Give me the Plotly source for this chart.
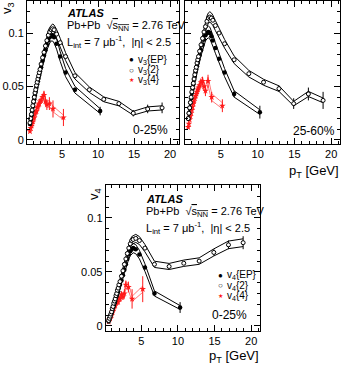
import plotly.graph_objects as go

# ---------------- data ----------------
pt_lo = [0.55, 0.65, 0.75, 0.85, 0.95, 1.05, 1.15, 1.25, 1.35, 1.45, 1.55, 1.65, 1.75, 1.85, 1.95,
         2.1, 2.3, 2.5, 2.7, 2.9, 3.1, 3.3, 3.5, 3.7, 3.9]
pt_ep = pt_lo + [4.25, 4.75, 5.5, 6.8, 10.3]
pt_2pc = pt_lo + [4.25, 4.75, 5.5, 6.8, 8.8, 10.8, 12.9, 14.9, 16.9, 18.9]
pt_4 = pt_lo[:20] + [3.25, 3.75, 5.2]

# v3, 0-25%
v3ep_c = [0.015, 0.019, 0.023, 0.027, 0.031, 0.035, 0.038, 0.042, 0.045, 0.049, 0.052, 0.055, 0.058, 0.061, 0.064,
          0.068, 0.074, 0.079, 0.084, 0.089, 0.093, 0.096, 0.098, 0.098, 0.096, 0.090, 0.078, 0.063, 0.047, 0.027]
v3ep_c_err = [0.0] * 25 + [0.001, 0.001, 0.001, 0.002, 0.004]
v32_c = [0.016, 0.020, 0.024, 0.028, 0.032, 0.036, 0.040, 0.044, 0.047, 0.051, 0.054, 0.057, 0.060, 0.063, 0.066,
         0.071, 0.077, 0.082, 0.088, 0.093, 0.098, 0.101, 0.103, 0.104, 0.103, 0.099, 0.091, 0.078, 0.060, 0.047,
         0.038, 0.034, 0.025, 0.029, 0.030]
v32_c_err = [0.0] * 25 + [0.0, 0.0, 0.0, 0.001, 0.001, 0.001, 0.002, 0.003, 0.004, 0.005]
v34_c = [0.008, 0.011, 0.013, 0.015, 0.017, 0.020, 0.021, 0.024, 0.026, 0.027, 0.030, 0.031, 0.033, 0.034, 0.036,
         0.037, 0.040, 0.042, 0.036, 0.033, 0.034, 0.029, 0.021]
v34_c_err = [0.001] * 15 + [0.002, 0.002, 0.004, 0.004, 0.005, 0.006, 0.008, 0.008]

# v3, 25-60%
v3ep_p = [0.020, 0.025, 0.030, 0.035, 0.039, 0.044, 0.048, 0.052, 0.056, 0.059, 0.063, 0.066, 0.069, 0.072, 0.075,
          0.079, 0.084, 0.089, 0.094, 0.098, 0.100, 0.101, 0.100, 0.097, 0.093, 0.086, 0.076, 0.063, 0.043, 0.026]
v3ep_p_err = [0.0] * 25 + [0.001, 0.001, 0.001, 0.003, 0.006]
v32_p = [0.020, 0.025, 0.030, 0.035, 0.040, 0.045, 0.049, 0.053, 0.057, 0.061, 0.065, 0.068, 0.072, 0.075, 0.078,
         0.083, 0.089, 0.095, 0.101, 0.106, 0.111, 0.114, 0.115, 0.114, 0.112, 0.107, 0.100, 0.090, 0.075, 0.062,
         0.054, 0.048, 0.034, 0.043, 0.037]
v32_p_err = [0.0] * 25 + [0.0, 0.0, 0.001, 0.001, 0.001, 0.002, 0.003, 0.005, 0.006, 0.008]
v34_p = [0.012, 0.015, 0.019, 0.022, 0.025, 0.028, 0.031, 0.034, 0.036, 0.039, 0.041, 0.043, 0.045, 0.047, 0.049,
         0.051, 0.054, 0.055, 0.050, 0.046, 0.055, 0.040, 0.032]
v34_p_err = [0.001] * 15 + [0.002, 0.003, 0.004, 0.004, 0.005, 0.006, 0.005, 0.006]

# v4, 0-25%
v4ep_c = [0.004, 0.006, 0.008, 0.010, 0.012, 0.014, 0.017, 0.019, 0.021, 0.023, 0.026, 0.028, 0.030, 0.032, 0.035,
          0.038, 0.042, 0.047, 0.052, 0.057, 0.062, 0.066, 0.069, 0.071, 0.072, 0.071, 0.066, 0.054, 0.030, 0.017]
v4ep_c_err = [0.0] * 25 + [0.001, 0.001, 0.001, 0.002, 0.005]
v42_c = [0.005, 0.007, 0.009, 0.011, 0.013, 0.016, 0.018, 0.021, 0.023, 0.025, 0.028, 0.030, 0.033, 0.035, 0.038,
         0.041, 0.046, 0.051, 0.057, 0.062, 0.067, 0.072, 0.076, 0.079, 0.080, 0.081, 0.079, 0.072, 0.057, 0.055,
         0.058, 0.060, 0.068, 0.075, 0.077]
v42_c_err = [0.0] * 25 + [0.0, 0.0, 0.001, 0.001, 0.001, 0.001, 0.002, 0.003, 0.004, 0.006]
v44_c = [0.004, 0.006, 0.007, 0.009, 0.010, 0.013, 0.014, 0.016, 0.018, 0.019, 0.021, 0.022, 0.024, 0.022, 0.026,
         0.025, 0.029, 0.027, 0.030, 0.038, 0.036, 0.025, 0.034]
v44_c_err = [0.001] * 15 + [0.002, 0.003, 0.003, 0.004, 0.004, 0.005, 0.009, 0.012]

# ---------------- figure ----------------
W, H = 344, 368
FONT = "Liberation Sans, Arial, Helvetica, sans-serif"
RED = "#ff1a1a"
PINK = "#ff7a7a"

fig = go.Figure()


def band(x, y, rel, ab):
    hi = [v * (1 + rel) + ab for v in y]
    lo = [v * (1 - rel) - ab for v in y]
    return hi, lo


def add_series(x, y, err, xa, ya, kind):
    if kind == "ep":
        hi, lo = band(x, y, 0.045, 0.0010)
        lc = "black"
    elif kind == "2pc":
        hi, lo = band(x, y, 0.035, 0.0009)
        lc = "black"
    else:
        hi, lo = band(x, y, 0.05, 0.0012)
        lc = PINK
    for yy in (hi, lo):
        fig.add_trace(go.Scatter(x=x, y=yy, mode="lines", xaxis=xa, yaxis=ya,
                                 line=dict(color=lc, width=1), hoverinfo="skip", showlegend=False))
    if kind == "ep":
        mk = dict(symbol="circle", size=4.5, color="black", line=dict(width=0))
        ec = "black"
    elif kind == "2pc":
        mk = dict(symbol="circle", size=4, color="white", line=dict(color="black", width=1))
        ec = "black"
    else:
        mk = dict(symbol="star", size=5, color=RED, line=dict(width=0))
        ec = RED
    fig.add_trace(go.Scatter(x=x, y=y, mode="markers", xaxis=xa, yaxis=ya, marker=mk,
                             error_y=dict(type="data", array=err, visible=True, color=ec,
                                          thickness=1, width=0),
                             showlegend=False))


# top-left: v3 0-25%
add_series(pt_4, v34_c, v34_c_err, "x", "y", "4")
add_series(pt_ep, v3ep_c, v3ep_c_err, "x", "y", "ep")
add_series(pt_2pc, v32_c, v32_c_err, "x", "y", "2pc")
# top-right: v3 25-60%
add_series(pt_4, v34_p, v34_p_err, "x2", "y2", "4")
add_series(pt_ep, v3ep_p, v3ep_p_err, "x2", "y2", "ep")
add_series(pt_2pc, v32_p, v32_p_err, "x2", "y2", "2pc")
# bottom: v4 0-25%
add_series(pt_4, v44_c, v44_c_err, "x3", "y3", "4")
add_series(pt_ep, v4ep_c, v4ep_c_err, "x3", "y3", "ep")
add_series(pt_2pc, v42_c, v42_c_err, "x3", "y3", "2pc")


def px(x):
    return x / W


def py(y):
    return 1 - y / H


def xaxis_cfg(d0, d1, rng, anchor):
    return dict(domain=[px(d0), px(d1)], range=rng, anchor=anchor,
                tickmode="linear", tick0=0, dtick=5, ticks="inside", ticklen=6, tickwidth=1,
                tickcolor="black", showline=True, linecolor="black", linewidth=1, mirror="ticks",
                showgrid=False, zeroline=False, tickfont=dict(size=11, color="black", family=FONT),
                minor=dict(ticks="inside", ticklen=3, dtick=1, tickcolor="black", showgrid=False))


def yaxis_cfg(d0, d1, rng, anchor, labels=True):
    return dict(domain=[py(d1), py(d0)], range=rng, anchor=anchor,
                tickmode="linear", tick0=0, dtick=0.05, ticks="inside", ticklen=6, tickwidth=1,
                tickcolor="black", showline=True, linecolor="black", linewidth=1, mirror="ticks",
                showgrid=False, zeroline=False, showticklabels=labels,
                tickfont=dict(size=11, color="black", family=FONT),
                minor=dict(ticks="inside", ticklen=3, dtick=0.01, tickcolor="black", showgrid=False))


fig.update_layout(
    width=W, height=H, margin=dict(l=0, r=0, t=0, b=0),
    paper_bgcolor="white", plot_bgcolor="white",
    font=dict(family=FONT, color="black", size=11),
    xaxis=xaxis_cfg(27, 179, [0.14, 21.25], "y"),
    yaxis=yaxis_cfg(1, 145, [-0.004, 0.13], "x"),
    xaxis2=xaxis_cfg(184.5, 340, [0.05, 21.2], "y2"),
    yaxis2=yaxis_cfg(1, 145, [-0.004, 0.13], "x2", labels=False),
    xaxis3=xaxis_cfg(105.7, 260, [0.15, 21.2], "y3"),
    yaxis3=yaxis_cfg(186, 332.7, [-0.0046, 0.1304], "x3"),
    showlegend=False,
)

SQ = "Pb+Pb  √<span style='text-decoration:overline'>s<sub>NN</sub></span> = 2.76 TeV"
LINT = "L<sub>int</sub> = 7 μb<sup>-1</sup>,  |η| < 2.5"


def ann(text, x, y, size=11, xa="left", ya="middle", color="black", angle=0):
    fig.add_annotation(text=text, x=px(x), y=py(y), xref="paper", yref="paper", showarrow=False,
                       xanchor=xa, yanchor=ya, textangle=angle, borderpad=0,
                       font=dict(size=size, color=color, family=FONT))


def header(x0, y_atlas, y_pb, y_l):
    ann("<b><i>ATLAS</i></b>", x0, y_atlas, 11)
    ann(SQ, x0, y_pb, 11)
    ann(LINT, x0, y_l, 11)


def legend(xm, xt, ys, n):
    ann("●", xm, ys[0], 8, xa="center")
    ann("○", xm, ys[1], 8, xa="center")
    ann("★", xm, ys[2], 6, xa="center", color=RED)
    ann("v<sub>%d</sub>{EP}" % n, xt, ys[0], 10)
    ann("v<sub>%d</sub>{2}" % n, xt, ys[1], 10)
    ann("v<sub>%d</sub>{4}" % n, xt, ys[2], 10)


header(66, 13, 26, 42)
legend(131.7, 136.5, [60, 70.7, 80.7], 3)
ann("0-25%", 150, 131, 12, xa="center")
ann("25-60%", 314, 132, 12, xa="center")
ann("p<sub>T</sub> [GeV]", 340, 172, 13, xa="right")
ann("v<sub>3</sub>", 8, 1, 13, xa="center", ya="top", angle=-90)

header(145, 200, 213, 229)
legend(220.7, 225.5, [276.7, 287.3, 297.3], 4)
ann("0-25%", 229, 317, 12, xa="center")
ann("p<sub>T</sub> [GeV]", 260, 358, 13, xa="right")
ann("v<sub>4</sub>", 95, 188, 13, xa="center", ya="top", angle=-90)

fig.write_html("out.html")
